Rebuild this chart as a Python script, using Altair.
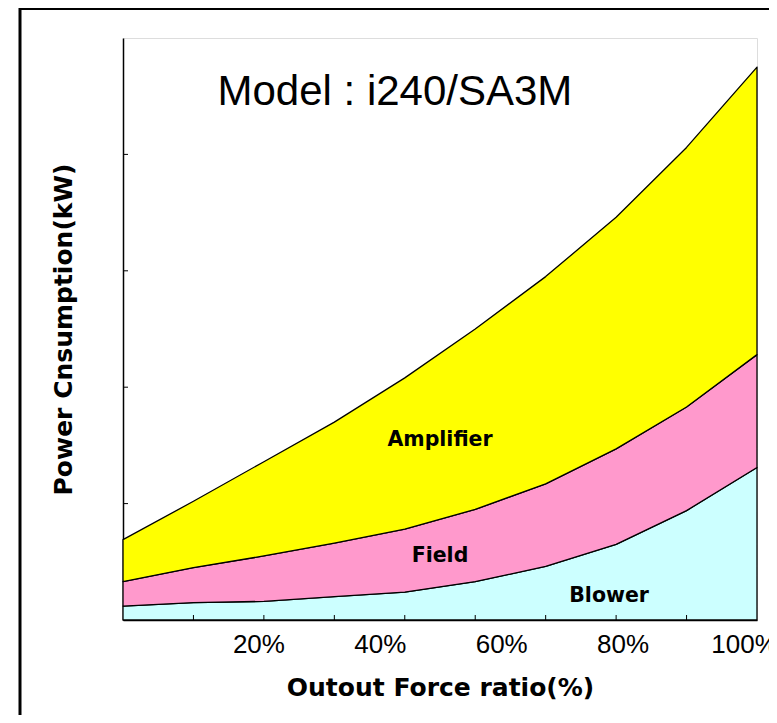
import altair as alt
import pandas as pd

# ---- data ----
force_ratio = [10, 20, 30, 40, 50, 60, 70, 80, 90, 100]
blower = [1.2, 1.5, 1.6, 2.0, 2.4, 3.3, 4.6, 6.5, 9.4, 13.1]
field = [2.1, 3.0, 3.9, 4.6, 5.4, 6.2, 7.1, 8.2, 8.9, 9.7]
amplifier = [3.6, 5.7, 8.1, 10.4, 13.0, 15.5, 17.8, 19.9, 22.3, 24.7]
series_names = ["Blower", "Field", "Amplifier"]
series_colors = ["#CCFFFF", "#FF99CC", "#FFFF00"]
x_label_values = [20, 40, 60, 80, 100]
y_tick_values = [10, 20, 30, 40]
x_tick_values = [20, 30, 40, 50, 60, 70, 80, 90]

rows = []
for i, x in enumerate(force_ratio):
    for k, (name, vals) in enumerate(zip(series_names, [blower, field, amplifier])):
        rows.append({"x": x, "series": name, "value": vals[i], "ord": k})
df = pd.DataFrame(rows)

ann = pd.DataFrame({
    "label": ["Amplifier", "Field", "Blower"],
    "x": [55, 55, 79],
    "y": [15.5, 5.5, 2.1],
})
title_df = pd.DataFrame({"label": ["Model : i240/SA3M"], "x": [48.6], "y": [45.4]})

W, H = 634, 582
xscale = alt.Scale(domain=[10, 100], nice=False, zero=False)
yscale = alt.Scale(domain=[0, 50], nice=False)

frame = alt.Chart(pd.DataFrame({"a": [0]})).mark_rect(
    fill=None, stroke="black", strokeWidth=3
).encode(
    x=alt.value(-103), x2=alt.value(900), y=alt.value(-29.5), y2=alt.value(900)
)

areas = alt.Chart(df).mark_area(stroke="black", strokeWidth=1.3, strokeJoin="round").encode(
    x=alt.X("x:Q", scale=xscale,
            axis=alt.Axis(labels=False, ticks=False, grid=False, domainColor="black",
                          domainWidth=1.5, title="Outout Force ratio(%)",
                          titleFont="DejaVu Sans", titleFontWeight="bold",
                          titleFontSize=25, titlePadding=55, titleColor="black")),
    y=alt.Y("value:Q", stack="zero", scale=yscale,
            axis=alt.Axis(labels=False, ticks=False, grid=False, domainColor="black",
                          domainWidth=1.5, title="Power Cnsumption(kW)",
                          titleFont="DejaVu Sans", titleFontWeight="bold",
                          titleFontSize=25, titlePadding=47, titleColor="black")),
    color=alt.Color("series:N", scale=alt.Scale(domain=series_names, range=series_colors),
                    legend=None),
    order=alt.Order("ord:Q"),
)

yticks = alt.Chart(pd.DataFrame({"v": y_tick_values})).mark_rule(
    color="black", strokeWidth=1
).encode(y=alt.Y("v:Q", scale=yscale), x=alt.value(0), x2=alt.value(5))

xticks = alt.Chart(pd.DataFrame({"v": x_tick_values})).mark_rule(
    color="black", strokeWidth=1
).encode(x=alt.X("v:Q", scale=xscale), y=alt.value(H), y2=alt.value(H - 5))

labels = alt.Chart(ann).mark_text(
    font="DejaVu Sans", fontWeight="bold", fontSize=20.5, color="black"
).encode(x=alt.X("x:Q", scale=xscale), y=alt.Y("y:Q", scale=yscale), text="label:N")

title_txt = alt.Chart(title_df).mark_text(
    font="Liberation Sans", fontSize=42, color="black"
).encode(x=alt.X("x:Q", scale=xscale), y=alt.Y("y:Q", scale=yscale), text="label:N")

inner = alt.layer(frame, areas, yticks, xticks, labels, title_txt)

xlab = alt.Chart(pd.DataFrame({"v": x_label_values})).mark_point(opacity=0).encode(
    x=alt.X("v:Q", scale=alt.Scale(domain=[-2.31, 102.14], nice=False, zero=False),
            axis=alt.Axis(orient="bottom", values=x_label_values, ticks=False, domain=False,
                          grid=False, labelExpr="datum.value + '%'", labelFont="Liberation Sans",
                          labelFontSize=26, labelColor="black", labelPadding=11,
                          labelOverlap=False, labelFlush=False, title=None)),
    y=alt.value(0),
)

chart = alt.layer(inner, xlab).resolve_scale(x="independent").properties(
    width=W, height=H,
    autosize=alt.AutoSizeParams(type="none"),
    padding={"left": 115, "top": 30, "right": 12, "bottom": 95},
).configure_view(stroke="#999999", strokeWidth=1).configure(background="white")

chart.save("out.html", embed_options={"renderer": "svg", "actions": False})
